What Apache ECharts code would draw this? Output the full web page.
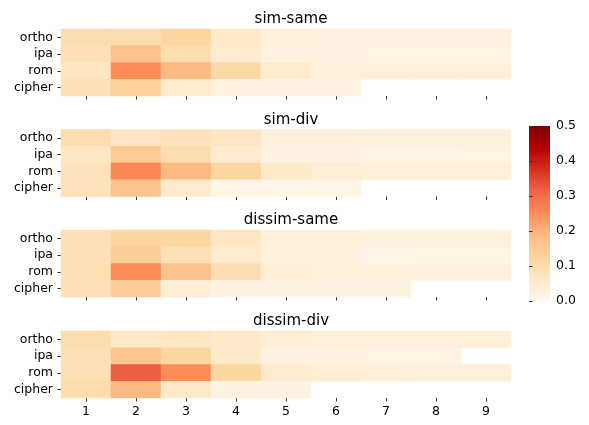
<!DOCTYPE html>
<html><head><meta charset="utf-8">
<script src="https://cdn.jsdelivr.net/npm/echarts@6/dist/echarts.min.js"></script>
<style>html,body{margin:0;padding:0;background:#fff}#c{width:589px;height:425px}</style>
</head><body><div id="c"></div>
<script>
const columns = ['1','2','3','4','5','6','7','8','9'];
const rows = ['ortho','ipa','rom','cipher'];
const panelTitles = ['sim-same','sim-div','dissim-same','dissim-div'];
const colorTicks = [0.0,0.1,0.2,0.3,0.4,0.5];

// rows: ortho, ipa, rom, cipher ; null = missing cell
const simSame = [
  [0.10,0.10,0.12,0.06,0.03,0.02,0.02,0.02,0.02],
  [0.09,0.17,0.10,0.05,0.02,0.02,0.015,0.015,0.015],
  [0.07,0.25,0.19,0.11,0.05,0.03,0.03,0.03,0.03],
  [0.09,0.13,0.05,0.02,0.02,0.02,null,null,null]
];
const simDiv = [
  [0.10,0.07,0.08,0.07,0.03,0.03,0.025,0.025,0.025],
  [0.07,0.15,0.10,0.05,0.02,0.02,0.012,0.012,0.015],
  [0.08,0.26,0.19,0.12,0.06,0.04,0.03,0.03,0.03],
  [0.08,0.17,0.05,0.01,0.01,0.01,null,null,null]
];
const dissimSame = [
  [0.09,0.12,0.12,0.07,0.03,0.03,0.025,0.025,0.025],
  [0.09,0.14,0.09,0.05,0.03,0.03,0.012,0.015,0.015],
  [0.09,0.25,0.17,0.10,0.04,0.03,0.03,0.03,0.03],
  [0.09,0.14,0.04,0.02,0.02,0.02,0.02,null,null]
];
const dissimDiv = [
  [0.10,0.06,0.07,0.06,0.04,0.03,0.03,0.03,0.03],
  [0.09,0.16,0.12,0.06,0.02,0.02,0.015,0.015,null],
  [0.09,0.32,0.25,0.12,0.05,0.04,0.035,0.03,0.03],
  [0.10,0.19,0.06,0.02,0.02,null,null,null,null]
];
const panels = [simSame, simDiv, dissimSame, dissimDiv];

const OrRd = ['#fff7ec','#fee8c8','#fdd49e','#fdbb84','#fc8d59','#ef6548','#d7301f','#b30000','#7f0000'];
const FONT = 'DejaVu Sans';
const tops = [29, 129.5, 230, 331];
const gridH = 67;

const grids = [], xAxes = [], yAxes = [], series = [], titles = [];
panels.forEach((m, i) => {
  grids.push({left: 61, width: 450, top: tops[i], height: gridH});
  titles.push({text: panelTitles[i], left: 286, textAlign: 'center', top: tops[i] - 22,
    textStyle: {fontFamily: FONT, fontSize: 15, fontWeight: 'normal', color: '#000'}});
  xAxes.push({type: 'category', gridIndex: i, data: columns,
    axisLine: {show: false}, splitLine: {show: false},
    axisTick: {show: true, alignWithLabel: true, interval: 0, length: 3.5, lineStyle: {color: '#333'}},
    axisLabel: {show: i === 3, interval: 0, fontFamily: FONT, fontSize: 12.5, color: '#000', margin: 7}});
  yAxes.push({type: 'category', gridIndex: i, data: rows, inverse: true,
    axisLine: {show: false}, splitLine: {show: false},
    axisTick: {show: true, alignWithLabel: true, interval: 0, length: 3.5, lineStyle: {color: '#333'}},
    axisLabel: {interval: 0, hideOverlap: false, fontFamily: FONT, fontSize: 12.5, lineHeight: 13, color: '#000', margin: 8}});
  const data = [];
  m.forEach((row, r) => row.forEach((v, c) => { if (v !== null) data.push([c, r, v]); }));
  series.push({type: 'heatmap', xAxisIndex: i, yAxisIndex: i, data: data,
    itemStyle: {borderWidth: 0}, emphasis: {disabled: true}, progressive: 0});
});

// colorbar axis
grids.push({left: 529, width: 21, top: 126, height: 175, show: true, borderWidth: 0,
  backgroundColor: {type: 'linear', x: 0, y: 1, x2: 0, y2: 0,
    colorStops: OrRd.map((c, k) => ({offset: k / (OrRd.length - 1), color: c}))}});
xAxes.push({type: 'value', gridIndex: 4, show: false, min: 0, max: 1});
yAxes.push({type: 'value', gridIndex: 4, position: 'right', min: colorTicks[0], max: colorTicks[colorTicks.length-1], interval: 0.1,
  axisLine: {show: false}, splitLine: {show: false},
  axisTick: {show: true, length: 3.5, lineStyle: {color: '#333'}},
  axisLabel: {fontFamily: FONT, fontSize: 12.5, color: '#000', margin: 6, formatter: v => v.toFixed(1)}});

const chart = echarts.init(document.getElementById('c'), null, {renderer: 'canvas'});
chart.setOption({
  animation: false,
  backgroundColor: '#fff',
  title: titles,
  grid: grids, xAxis: xAxes, yAxis: yAxes,
  visualMap: {show: false, type: 'continuous', min: 0, max: 0.5, seriesIndex: [0,1,2,3],
    inRange: {color: OrRd}},
  series: series
});
</script></body></html>
